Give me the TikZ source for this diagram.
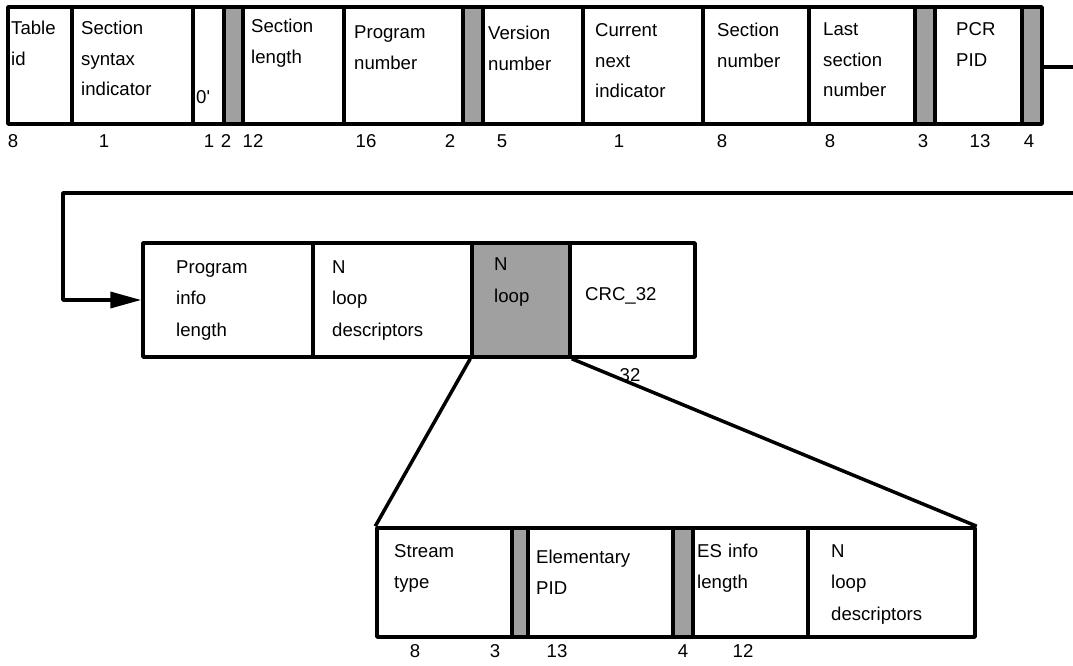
\documentclass[tikz,border=0pt]{standalone}
\usepackage{fontspec}
\setmainfont{Liberation Sans}
\usetikzlibrary{fit,arrows.meta}
\definecolor{cellgray}{HTML}{A0A0A0}
\tikzset{
  cell/.style={draw, line width=3.5pt, inner sep=0pt, line join=round},
  graycell/.style={cell, fill=cellgray},
  lbl/.style={anchor=base west, inner sep=0pt, text width=4cm, align=left, font=\fontsize{18.6}{30.5}\selectfont},
  lblb/.style={lbl, font=\fontsize{18.6}{31.5}\selectfont},
  num/.style={anchor=base, inner sep=0pt, font=\fontsize{18.6}{20}\selectfont},
  conn/.style={line width=3.5pt, line join=round}
}
\begin{document}
\begin{tikzpicture}[x=1pt,y=-1pt]
\useasboundingbox (0,0) rectangle (1073,666);
% ---------- top row ----------
\node[cell, fit={(8,7)(72,124)}] (tid) {};
\node[cell, fit={(72,7)(193,124)}] (ssi) {};
\node[cell, fit={(193,7)(224,124)}] (zero) {};
\node[graycell, fit={(224,7)(243,124)}] (ga) {};
\node[cell, fit={(243,7)(344,124)}] (slen) {};
\node[cell, fit={(344,7)(463,124)}] (pnum) {};
\node[graycell, fit={(463,7)(483,124)}] (gb) {};
\node[cell, fit={(483,7)(583,124)}] (vnum) {};
\node[cell, fit={(583,7)(703,124)}] (cni) {};
\node[cell, fit={(703,7)(809,124)}] (snum) {};
\node[cell, fit={(809,7)(915,124)}] (lsn) {};
\node[graycell, fit={(915,7)(935,124)}] (gc) {};
\node[cell, fit={(935,7)(1022,124)}] (pcr) {};
\node[graycell, fit={(1022,7)(1042,124)}] (gd) {};

\node[lbl] (t1) at (11,35) {Table\\id};
\node[lbl] (t2) at (81,35) {Section\\syntax\\indicator};
\node[lbl] (t3) at (196,104) {0\textquotesingle};
\node[lbl] (t4) at (251,33) {Section\\length};
\node[lbl] (t5) at (354,39) {Program\\number};
\node[lbl] (t6) at (488,40) {Version\\number};
\node[lbl] (t7) at (595,37) {Current\\next\\indicator};
\node[lbl] (t8) at (717,37) {Section\\number};
\node[lbl] (t9) at (823,36) {Last\\section\\number};
\node[lbl] (t10) at (956,36) {PCR\\PID};

\node[num] (n1) at (13,147) {8};
\node[num] (n2) at (104,147) {1};
\node[num] (n3) at (209,147) {1};
\node[num] (n4) at (226,147) {2};
\node[num] (n5) at (253,147) {12};
\node[num] (n6) at (366,147) {16};
\node[num] (n7) at (450,147) {2};
\node[num] (n8) at (502,147) {5};
\node[num] (n9) at (619,147) {1};
\node[num] (n10) at (722,147) {8};
\node[num] (n11) at (830,147) {8};
\node[num] (n12) at (923,147) {3};
\node[num] (n13) at (980,147) {13};
\node[num] (n14) at (1029,147) {4};

% ---------- middle row ----------
\node[cell, fit={(143,243)(313,357)}] (pil) {};
\node[cell, fit={(313,243)(472,357)}] (nld) {};
\node[graycell, fit={(472,243)(570,357)}] (nloop) {};
\node[cell, fit={(570,243)(695,357)}] (crc) {};

\node[lblb] (m1) at (176,273) {Program\\info\\length};
\node[lblb] (m2) at (332,273) {N\\loop\\descriptors};
\node[lbl, font=\fontsize{18.6}{32}\selectfont] (m3) at (494,270) {N\\loop};
\node[lbl] (m4) at (585,300) {CRC\_32};
\node[num] (m5) at (630,381) {32};

% ---------- bottom row ----------
\node[cell, fit={(377,528)(512,637)}] (st) {};
\node[graycell, fit={(512,528)(528,637)}] (ge) {};
\node[cell, fit={(528,528)(673,637)}] (epid) {};
\node[graycell, fit={(673,528)(693,637)}] (gf) {};
\node[cell, fit={(693,528)(808,637)}] (esl) {};
\node[cell, fit={(808,528)(975,637)}] (nld2) {};

\node[lbl, font=\fontsize{18.6}{31}\selectfont] (b1) at (394,557) {Stream\\type};
\node[lbl, font=\fontsize{18.6}{31}\selectfont] (b2) at (536,563) {Elementary\\PID};
\node[lbl, font=\fontsize{18.6}{31}\selectfont] (b3) at (697,557) {ES info\\length};
\node[lblb] (b4) at (831,557) {N\\loop\\descriptors};

\node[num] (b5) at (415,657) {8};
\node[num] (b6) at (495,657) {3};
\node[num] (b7) at (557,657) {13};
\node[num] (b8) at (683,657) {4};
\node[num] (b9) at (743,657) {12};

% ---------- connectors ----------
\coordinate (exitA) at (1073,67);
\coordinate (exitB) at (1073,193);
\coordinate (bend) at (63,193);
\draw[conn] (gd.east |- exitA) -- (exitA);
\draw[conn, -{Triangle[length=31pt,width=16pt]}] (exitB) -- (bend) |- (pil.west);
\draw[conn] (nloop.south west) -- (st.north west);
\draw[conn] (nloop.south east) -- (nld2.north east);
\end{tikzpicture}
\end{document}
